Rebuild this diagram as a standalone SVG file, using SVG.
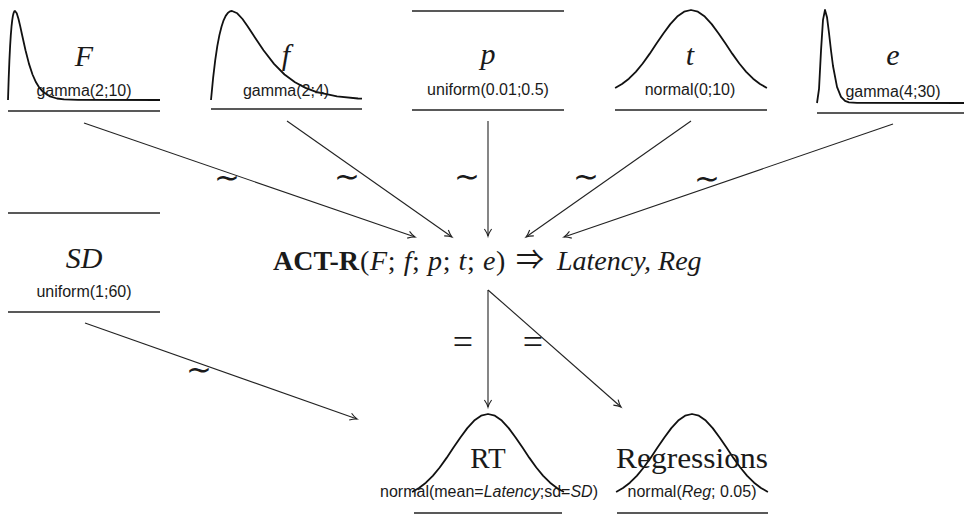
<svg xmlns="http://www.w3.org/2000/svg" width="964" height="518" viewBox="0 0 964 518">
<style>
  .curve { fill: none; stroke: #111; stroke-width: 1.8; stroke-linejoin: round; }
  .rule { stroke: #222; stroke-width: 1.3; }
  .edge { fill: none; stroke: #222; stroke-width: 1.1; marker-end: url(#tip); }
  .lab { font-family: "Liberation Serif", "DejaVu Serif", serif; font-style: italic; font-size: 30px; fill: #1a1a1a; text-anchor: middle; }
  .big { font-family: "Liberation Serif", "DejaVu Serif", serif; font-size: 29px; fill: #1a1a1a; text-anchor: middle; }
  .dist { font-family: "Liberation Sans", "DejaVu Sans", sans-serif; font-size: 16px; fill: #1a1a1a; text-anchor: middle; }
  .main { font-family: "Liberation Serif", "DejaVu Serif", serif; font-size: 28px; fill: #1a1a1a; }
  .op { font-family: "Noto Sans CJK JP", "DejaVu Sans", sans-serif; font-size: 31px; fill: #1a1a1a; text-anchor: middle; }
  .eq { font-family: "Liberation Serif", "DejaVu Serif", serif; font-size: 36px; fill: #1a1a1a; text-anchor: middle; }
  .it { font-style: italic; }
</style>
<defs>
  <marker id="tip" markerUnits="userSpaceOnUse" markerWidth="12" markerHeight="10" viewBox="-8 -5 9 10" refX="0" refY="0" orient="auto">
    <path d="M-7,-3.6 Q-3,-0.8 0,0 Q-3,0.8 -7,3.6" fill="none" stroke="#222" stroke-width="1.1"/>
  </marker>
  <path id="bell" d="M-75.9,78 L-69,74 L-62.1,68.7 L-55.2,61.8 L-48.3,53.5 L-41.4,43.9 L-34.5,33.6 L-27.6,23.5 L-20.7,14.1 L-13.8,6.6 L-6.9,1.7 L0,0 L6.9,1.7 L13.8,6.6 L20.7,14.1 L27.6,23.5 L34.5,33.6 L41.4,43.9 L48.3,53.5 L55.2,61.8 L62.1,68.7 L69,74 L75.9,78"/>
</defs>

<g id="node-F">
  <path class="curve" d="M8,100 L8.7,78.1 L9.4,60.4 L10.1,46.2 L10.8,35.1 L11.5,26.7 L12.2,20.3 L12.9,15.9 L13.6,13 L14.3,11.4 L15,11 L16.75,13.3 L18.5,19 L20.25,26.4 L22,34.5 L25.5,50.3 L29,63.9 L32.5,74.5 L36,82.3 L39.5,87.9 L43,91.8 L50,96.4 L57,98.5 L64,99.4 L78,99.9 L160,100"/>
  <line class="rule" x1="8" y1="111" x2="160" y2="111"/>
  <text class="lab" x="84" y="66">F</text>
  <text class="dist" x="84" y="96">gamma(2;10)</text>
</g>

<g id="node-f">
  <path class="curve" d="M211,100 L213.1,78.1 L215.2,60.4 L217.3,46.2 L219.4,35.1 L221.5,26.7 L223.6,20.3 L225.7,15.9 L227.8,13 L229.9,11.4 L232,11 L237.25,13.3 L242.5,19 L247.75,26.4 L253,34.5 L263.5,50.3 L274,63.9 L284.5,74.5 L295,82.3 L305.5,87.9 L316,91.8 L337,96.4 L358,98.5 L362,98.7"/>
  <line class="rule" x1="211" y1="109" x2="362" y2="109"/>
  <text class="lab" x="286" y="65">f</text>
  <text class="dist" x="286" y="96">gamma(2;4)</text>
</g>

<g id="node-p">
  <line class="rule" x1="412" y1="11" x2="564" y2="11"/>
  <line class="rule" x1="412" y1="110" x2="564" y2="110"/>
  <text class="lab" x="488" y="64">p</text>
  <text class="dist" x="488" y="95">uniform(0.01;0.5)</text>
</g>

<g id="node-t">
  <use href="#bell" class="curve" x="691" y="10"/>
  <line class="rule" x1="615" y1="110" x2="767" y2="110"/>
  <text class="lab" x="690" y="65">t</text>
  <text class="dist" x="690" y="95">normal(0;10)</text>
</g>

<g id="node-e">
  <path class="curve" d="M817,103 L819,89.2 L821,50.9 L823,19.9 L825,10 L827,17.2 L829,33 L831,50.5 L833,66 L837,86.8 L841,96.8 L845,100.8 L849,102.3 L857,102.9 L969,103"/>
  <line class="rule" x1="817" y1="113" x2="969" y2="113"/>
  <text class="lab" x="893" y="65">e</text>
  <text class="dist" x="893" y="97">gamma(4;30)</text>
</g>

<g id="node-SD">
  <line class="rule" x1="8" y1="213" x2="160" y2="213"/>
  <line class="rule" x1="8" y1="312" x2="160" y2="312"/>
  <text class="lab" x="84" y="268">SD</text>
  <text class="dist" x="84" y="297">uniform(1;60)</text>
</g>

<g id="node-ACTR">
  <text class="main" y="270"><tspan x="273" font-weight="bold">ACT-R</tspan><tspan x="360" style="letter-spacing:0.6px">(<tspan class="it">F</tspan>; <tspan class="it">f</tspan>; <tspan class="it">p</tspan>; <tspan class="it">t</tspan>; <tspan class="it">e</tspan>)</tspan><tspan x="516" style="font-family:'Noto Sans CJK JP','DejaVu Serif',serif;font-size:28px">⇒</tspan><tspan x="557" class="it">Latency, Reg</tspan></text>
</g>

<g id="node-RT">
  <use href="#bell" class="curve" x="488" y="414"/>
  <line class="rule" x1="414" y1="513" x2="562" y2="513"/>
  <text class="big" x="488" y="468">RT</text>
  <text class="dist" x="489" y="497">normal(mean=<tspan class="it">Latency</tspan>;sd=<tspan class="it">SD</tspan>)</text>
</g>

<g id="node-Regressions">
  <use href="#bell" class="curve" x="692" y="414"/>
  <line class="rule" x1="617" y1="513" x2="768" y2="513"/>
  <text class="big" x="692" y="468" textLength="152" lengthAdjust="spacingAndGlyphs">Regressions</text>
  <text class="dist" x="692" y="497">normal(<tspan class="it">Reg</tspan>; 0.05)</text>
</g>

<g id="connectors">
  <line class="edge" x1="84" y1="123" x2="415" y2="237"/>
  <line class="edge" x1="287" y1="121" x2="452" y2="237"/>
  <line class="edge" x1="488" y1="121" x2="488" y2="236"/>
  <line class="edge" x1="691" y1="121" x2="526" y2="237"/>
  <line class="edge" x1="893" y1="124" x2="564" y2="237"/>
  <line class="edge" x1="85" y1="323" x2="357" y2="419"/>
  <line class="edge" x1="488" y1="290" x2="488" y2="407"/>
  <line class="edge" x1="488" y1="290" x2="621" y2="407"/>
  <text class="op" x="227" y="188">∼</text>
  <text class="op" x="347" y="187">∼</text>
  <text class="op" x="467" y="187">∼</text>
  <text class="op" x="586" y="187">∼</text>
  <text class="op" x="707" y="189">∼</text>
  <text class="op" x="199" y="380">∼</text>
  <text class="eq" x="463" y="354">=</text>
  <text class="eq" x="533" y="354">=</text>
</g>
</svg>
